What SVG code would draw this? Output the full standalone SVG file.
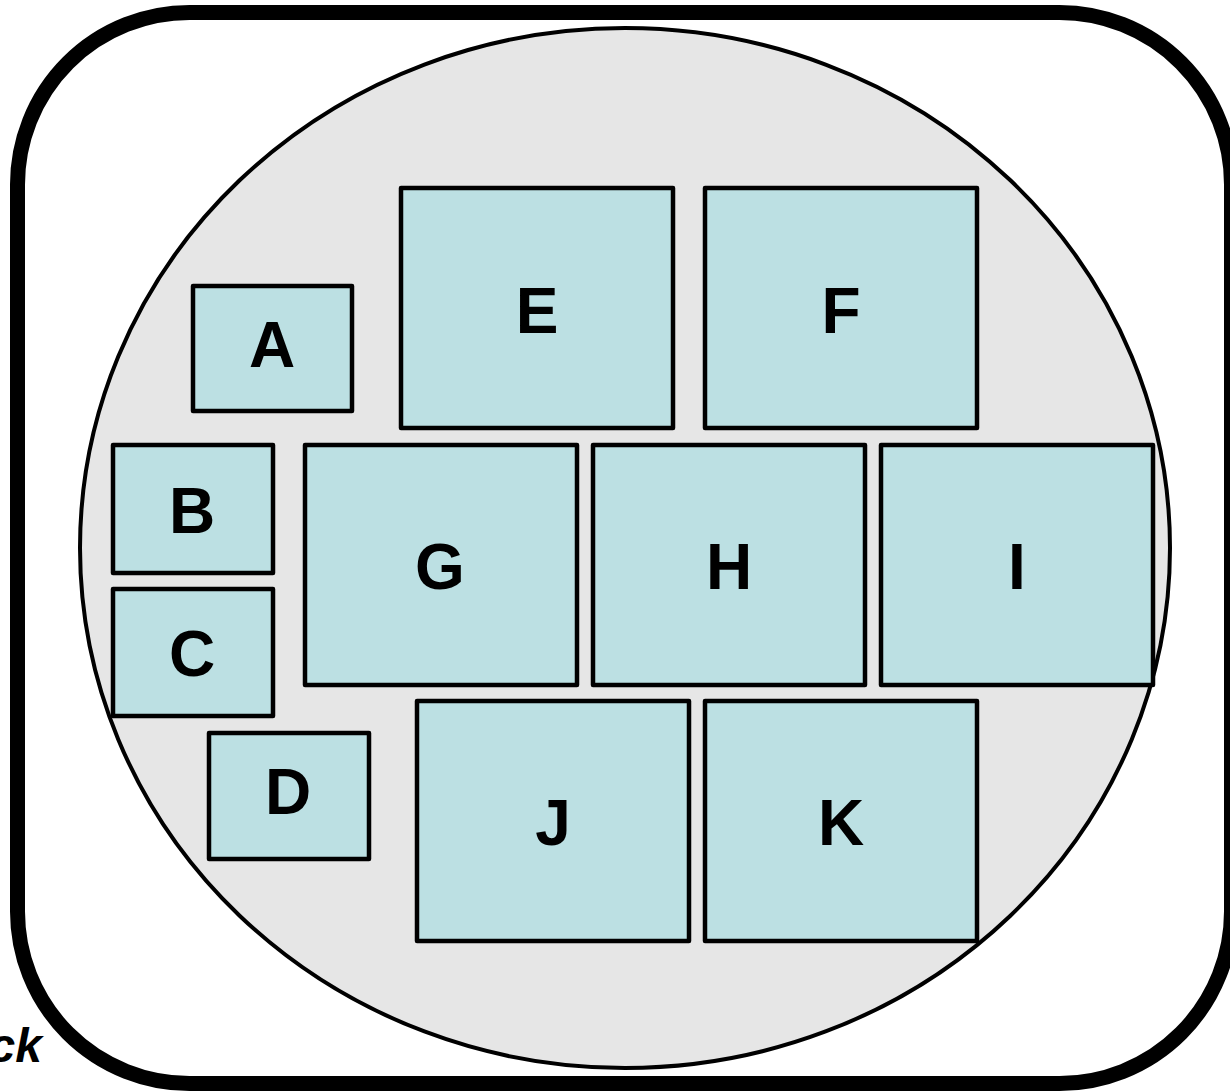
<svg xmlns="http://www.w3.org/2000/svg" width="1230" height="1091" viewBox="0 0 1230 1091">
  <style>
    .box { fill: #bce0e3; stroke: #000; stroke-width: 4.5; stroke-linejoin: round; }
    .lbl { font-family: "Liberation Sans", Arial, sans-serif; font-weight: bold; font-size: 64px; fill: #000; text-anchor: middle; }
  </style>
  <rect width="1230" height="1091" fill="#fff"/>
  <!-- frame -->
  <rect x="17.5" y="12.5" width="1214" height="1071" rx="172" ry="172" fill="none" stroke="#000" stroke-width="15"/>
  <text x="42" y="1062" font-family="Liberation Sans, Arial, sans-serif" font-weight="bold" font-style="italic" font-size="48" text-anchor="end">ck</text>
  <!-- domain ellipse -->
  <ellipse cx="625" cy="548" rx="545" ry="520" fill="#e6e6e6" stroke="#000" stroke-width="4"/>
  <g id="connectors"></g>
  <g id="A"><rect class="box" x="193" y="286" width="159" height="125"/><text class="lbl" x="272" y="367" font-size="48">A</text></g>
  <g id="B"><rect class="box" x="113" y="445" width="160" height="128"/><text class="lbl" x="192" y="533">B</text></g>
  <g id="C"><rect class="box" x="113" y="589" width="160" height="127"/><text class="lbl" x="192" y="676">C</text></g>
  <g id="D"><rect class="box" x="209" y="733" width="160" height="126"/><text class="lbl" x="288" y="814" font-size="54">D</text></g>
  <g id="E"><rect class="box" x="401" y="188" width="272" height="240"/><text class="lbl" x="537" y="333">E</text></g>
  <g id="F"><rect class="box" x="705" y="188" width="272" height="240"/><text class="lbl" x="841" y="333">F</text></g>
  <g id="G"><rect class="box" x="305" y="445" width="272" height="240"/><text class="lbl" x="440" y="589">G</text></g>
  <g id="H"><rect class="box" x="593" y="445" width="272" height="240"/><text class="lbl" x="729" y="589">H</text></g>
  <g id="I"><rect class="box" x="881" y="445" width="272" height="240"/><text class="lbl" x="1017" y="589">I</text></g>
  <g id="J"><rect class="box" x="417" y="701" width="272" height="240"/><text class="lbl" x="553" y="845">J</text></g>
  <g id="K"><rect class="box" x="705" y="701" width="272" height="240"/><text class="lbl" x="841" y="845">K</text></g>
</svg>
